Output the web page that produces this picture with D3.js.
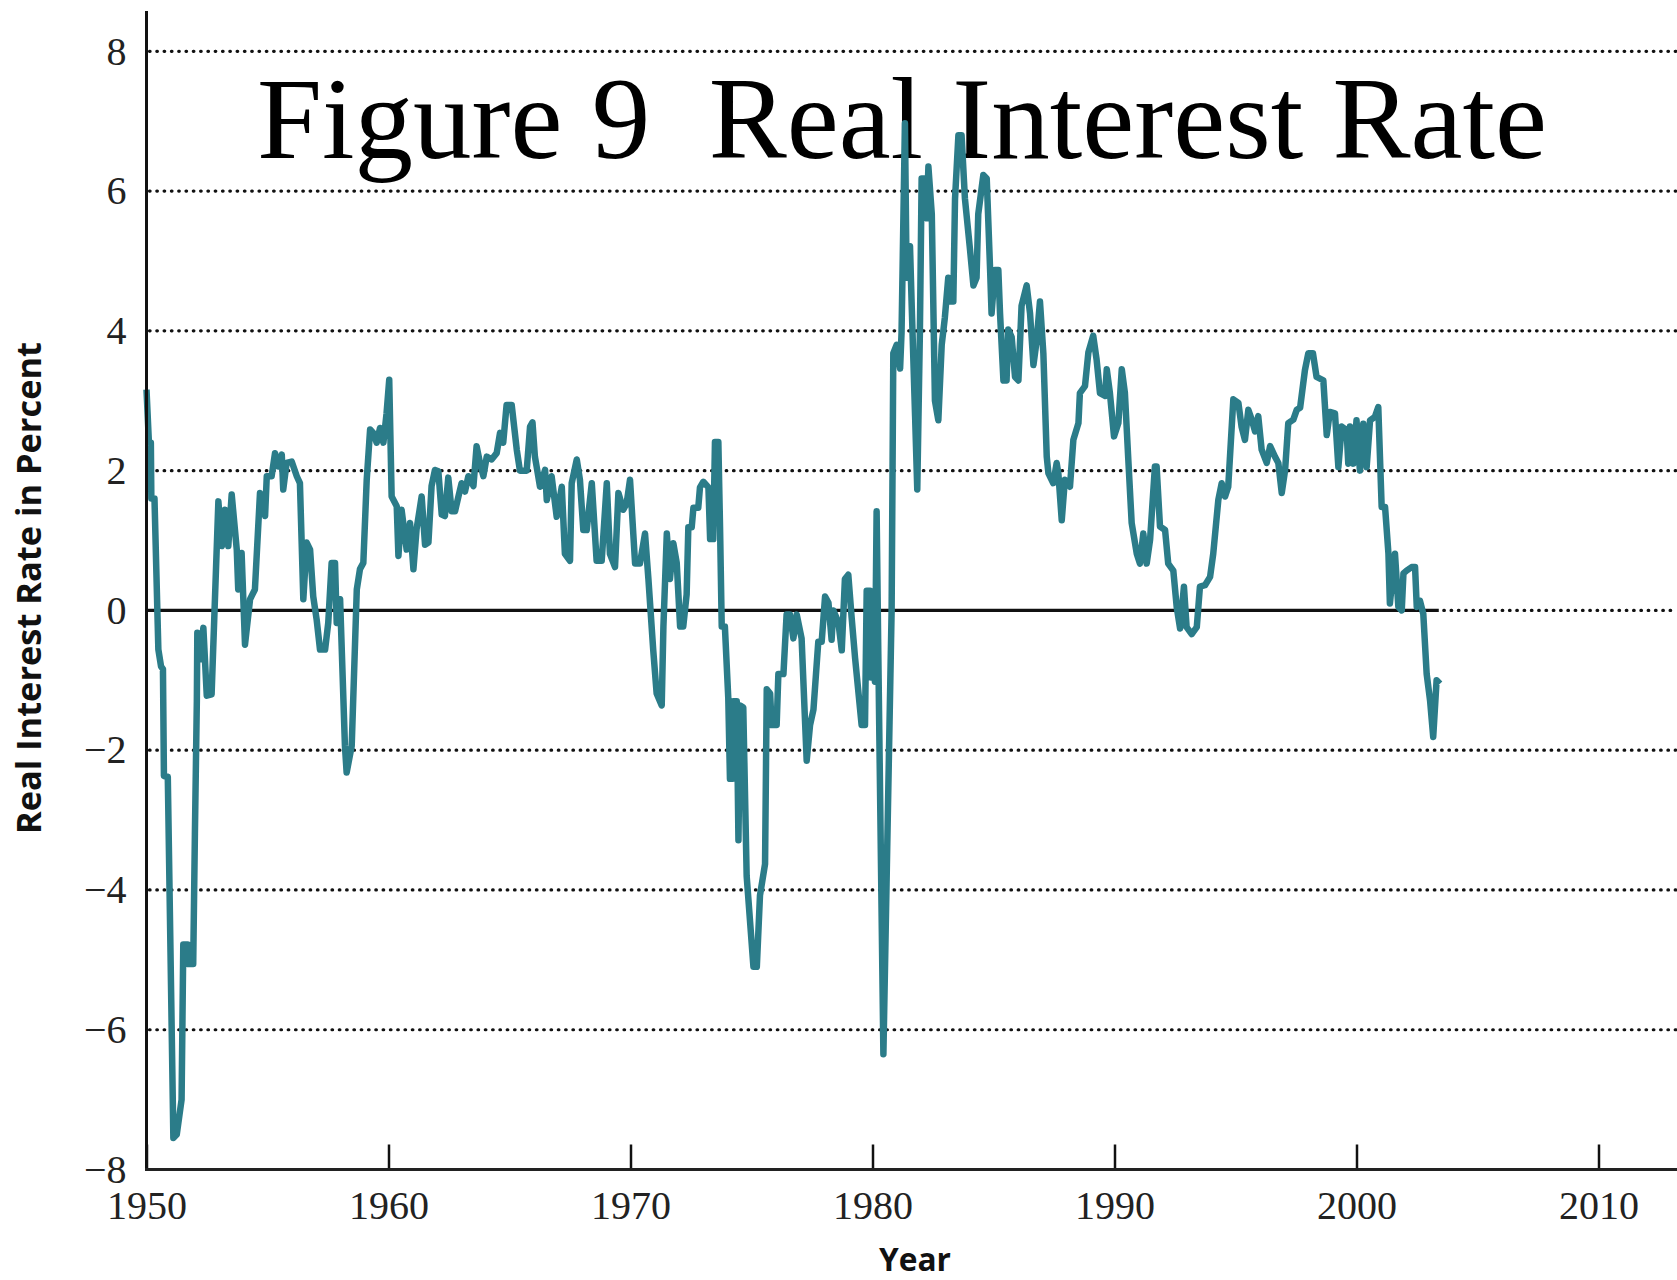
<!DOCTYPE html>
<html>
<head>
<meta charset="utf-8">
<script src="https://cdn.jsdelivr.net/npm/d3@7"></script>
<style>
  html, body { margin: 0; padding: 0; background: #ffffff; }
  svg { display: block; }
</style>
</head>
<body>
<svg id="chart" width="1677" height="1280"></svg>
<script>
// ---- data ----
const years = [
  1950.00,1950.10,1950.18,1950.20,1950.33,1950.49,1950.60,1950.68,1950.72,1950.88,
  1951.11,1951.25,1951.45,1951.52,1951.70,1951.73,1951.93,1952.00,1952.08,1952.10,
  1952.21,1952.35,1952.49,1952.69,1952.97,1953.11,1953.24,1953.38,1953.52,1953.73,
  1953.79,1953.93,1954.07,1954.28,1954.48,1954.69,1954.90,1954.97,1955.17,1955.31,
  1955.45,1955.59,1955.65,1955.79,1956.00,1956.21,1956.34,1956.48,1956.62,1956.76,
  1956.89,1957.03,1957.17,1957.38,1957.51,1957.65,1957.79,1957.86,1958.00,1958.20,
  1958.27,1958.48,1958.69,1958.82,1958.96,1959.10,1959.24,1959.37,1959.51,1959.65,
  1959.79,1959.92,1960.03,1960.13,1960.34,1960.41,1960.54,1960.75,1960.89,1961.03,
  1961.16,1961.37,1961.51,1961.65,1961.78,1961.92,1962.06,1962.20,1962.33,1962.47,
  1962.61,1962.75,1962.89,1963.02,1963.16,1963.30,1963.51,1963.64,1963.78,1963.92,
  1964.06,1964.26,1964.47,1964.61,1964.74,1964.88,1965.09,1965.30,1965.43,1965.71,
  1965.85,1965.95,1966.05,1966.12,1966.26,1966.47,1966.54,1966.74,1966.95,1967.16,
  1967.29,1967.50,1967.57,1967.78,1967.91,1968.05,1968.19,1968.40,1968.53,1968.60,
  1968.81,1969.02,1969.15,1969.36,1969.50,1969.70,1969.84,1969.98,1970.19,1970.39,
  1970.60,1970.74,1970.94,1971.08,1971.29,1971.36,1971.50,1971.63,1971.77,1971.91,
  1972.05,1972.18,1972.32,1972.39,1972.53,1972.60,1972.80,1972.87,1973.01,1973.22,
  1973.29,1973.42,1973.49,1973.63,1973.70,1973.77,1973.90,1974.04,1974.11,1974.22,
  1974.25,1974.39,1974.46,1974.53,1974.66,1974.80,1975.08,1975.22,1975.35,1975.56,
  1975.63,1975.77,1975.83,1976.04,1976.11,1976.32,1976.45,1976.59,1976.73,1976.87,
  1977.07,1977.28,1977.42,1977.56,1977.76,1977.90,1978.04,1978.18,1978.31,1978.38,
  1978.59,1978.73,1978.86,1979.00,1979.14,1979.28,1979.55,1979.69,1979.76,1979.90,
  1979.94,1980.04,1980.10,1980.17,1980.24,1980.45,1980.79,1980.86,1981.00,1981.14,
  1981.20,1981.34,1981.41,1981.55,1981.62,1981.76,1981.85,1981.96,1982.03,1982.17,
  1982.24,1982.31,1982.45,1982.58,1982.72,1982.86,1982.99,1983.13,1983.20,1983.34,
  1983.41,1983.55,1983.68,1983.82,1984.03,1984.17,1984.30,1984.37,1984.58,1984.72,
  1984.86,1984.92,1985.06,1985.20,1985.27,1985.41,1985.54,1985.61,1985.75,1985.89,
  1986.03,1986.16,1986.37,1986.51,1986.65,1986.78,1986.92,1987.06,1987.20,1987.27,
  1987.47,1987.61,1987.68,1987.82,1987.95,1988.16,1988.30,1988.51,1988.57,1988.78,
  1988.92,1989.12,1989.26,1989.40,1989.61,1989.68,1989.81,1989.98,1990.16,1990.30,
  1990.43,1990.57,1990.71,1990.92,1991.05,1991.19,1991.33,1991.47,1991.67,1991.74,
  1991.88,1992.09,1992.22,1992.43,1992.57,1992.71,1992.87,1992.98,1993.19,1993.40,
  1993.53,1993.74,1993.95,1994.08,1994.29,1994.43,1994.57,1994.70,1994.91,1995.12,
  1995.25,1995.39,1995.53,1995.67,1995.81,1995.94,1996.08,1996.29,1996.43,1996.63,
  1996.77,1996.91,1997.05,1997.18,1997.39,1997.53,1997.67,1997.87,1998.01,1998.20,
  1998.35,1998.63,1998.77,1998.90,1999.11,1999.25,1999.39,1999.59,1999.66,1999.73,
  1999.87,2000.00,2000.14,2000.28,2000.42,2000.56,2000.76,2000.90,2001.04,2001.18,
  2001.32,2001.38,2001.59,2001.73,2001.87,2001.94,2002.07,2002.28,2002.42,2002.49,
  2002.62,2002.76,2002.90,2003.04,2003.17,2003.31,2003.45
];
const rates = [
  3.16,2.40,2.40,1.60,1.60,-0.56,-0.80,-0.84,-2.37,-2.38,
  -7.55,-7.50,-7.00,-4.78,-4.78,-5.06,-5.06,-3.20,-1.30,-0.32,
  -0.70,-0.25,-1.22,-1.20,1.56,0.92,1.44,0.92,1.66,0.87,
  0.30,0.82,-0.49,0.16,0.30,1.68,1.35,1.92,1.92,2.25,
  2.06,2.23,1.73,2.11,2.13,1.92,1.82,0.16,0.97,0.87,
  0.20,-0.13,-0.56,-0.56,-0.18,0.68,0.68,-0.18,0.16,-1.94,
  -2.32,-1.94,0.30,0.59,0.68,1.87,2.59,2.54,2.40,2.61,
  2.40,2.82,3.30,1.63,1.49,0.78,1.44,0.87,1.25,0.59,
  1.16,1.63,0.94,0.97,1.78,2.01,1.99,1.37,1.35,1.90,
  1.42,1.42,1.63,1.82,1.70,1.92,1.78,2.35,2.11,1.92,
  2.20,2.16,2.25,2.54,2.40,2.94,2.94,2.30,2.00,2.00,
  2.63,2.69,2.20,2.06,1.77,2.01,1.58,1.92,1.34,1.77,
  0.81,0.71,1.82,2.16,1.87,1.15,1.15,1.82,1.10,0.71,
  0.71,1.82,0.81,0.62,1.68,1.44,1.53,1.87,0.67,0.67,
  1.10,0.45,-0.57,-1.19,-1.36,-0.23,1.10,0.45,0.96,0.68,
  -0.23,-0.23,0.23,1.19,1.19,1.47,1.47,1.76,1.84,1.76,
  1.02,1.02,2.41,2.41,1.19,-0.23,-0.23,-1.25,-2.41,-2.41,
  -1.30,-1.30,-3.29,-1.36,-1.39,-3.80,-5.10,-5.10,-4.08,-3.63,
  -1.13,-1.19,-1.64,-1.64,-0.91,-0.91,-0.06,-0.06,-0.40,-0.06,
  -0.40,-2.15,-1.64,-1.42,-0.45,-0.45,0.20,0.11,-0.42,0.00,
  -0.17,-0.57,0.45,0.51,-0.11,-0.68,-1.64,-1.64,0.28,0.28,
  -0.96,-0.45,-1.02,1.42,-0.62,-6.35,0.00,3.68,3.80,3.46,
  3.97,6.97,4.76,5.21,4.36,2.78,1.73,4.02,6.18,6.18,
  5.61,6.35,5.67,3.00,2.72,3.80,4.19,4.76,4.42,4.42,
  5.89,6.80,6.80,5.89,5.16,4.65,4.76,5.67,6.23,6.18,
  4.87,4.25,4.87,4.87,4.25,3.29,3.29,4.02,3.91,3.34,
  3.29,4.36,4.65,4.25,3.51,3.85,4.42,3.68,2.20,1.96,
  1.82,2.11,1.96,1.29,1.87,1.77,2.44,2.68,3.11,3.21,
  3.69,3.93,3.59,3.11,3.07,3.45,3.11,2.49,2.68,3.45,
  3.11,2.16,1.25,0.81,0.67,1.10,0.67,1.01,2.06,2.06,
  1.20,1.15,0.67,0.57,0.05,-0.26,0.34,-0.24,-0.34,-0.24,
  0.34,0.36,0.48,0.81,1.58,1.82,1.63,1.77,3.02,2.97,
  2.63,2.44,2.87,2.73,2.56,2.78,2.30,2.11,2.35,2.20,
  2.11,1.68,2.01,2.68,2.73,2.87,2.90,3.44,3.68,3.68,
  3.34,3.29,2.51,2.84,2.82,2.05,2.63,2.58,2.10,2.63,
  2.10,2.72,2.00,2.67,2.05,2.72,2.77,2.91,1.48,1.48,
  0.81,0.10,0.81,0.05,0.00,0.53,0.57,0.62,0.62,0.05,
  0.14,-0.05,-0.91,-1.29,-1.81,-1.00,-1.05
];
const xTicks = [1950, 1960, 1970, 1980, 1990, 2000, 2010];
const yTicks = [-8, -6, -4, -2, 0, 2, 4, 6, 8];
const zeroLineEnd = 2003.4;
const titleText = "Figure 9  Real Interest Rate";
const yLabel = "Real Interest Rate in Percent";
const xLabel = "Year";

// ---- layout ----
const W = 1677, H = 1280;
const mLeft = 146.5, mRight = 1598.5, mTop = 51.3, mBottom = 1169.5;
const svg = d3.select("#chart");
svg.append("rect").attr("width", W).attr("height", H).attr("fill", "#ffffff");

const x = d3.scaleLinear().domain([1950, 2010]).range([mLeft, mRight]);
const y = d3.scaleLinear().domain([-8, 8]).range([mBottom, mTop]);

const ink = "#111111";
const serif = "'Liberation Serif', 'Times New Roman', serif";
const sans = "'Open Sans', 'Noto Sans', sans-serif";

// Dotted gridlines
const grid = svg.append("g");
const dotted = sel => sel
  .attr("stroke", ink).attr("stroke-width", 3.2)
  .attr("stroke-linecap", "round")
  .attr("stroke-dasharray", "0.6 6.7");
yTicks.filter(v => v !== -8 && v !== 0).forEach(v => {
  grid.append("line")
    .attr("x1", mLeft + 3).attr("x2", W)
    .attr("y1", y(v)).attr("y2", y(v))
    .call(dotted);
});
// zero line: solid to end of data, dotted after
grid.append("line")
  .attr("x1", mLeft).attr("x2", x(zeroLineEnd))
  .attr("y1", y(0)).attr("y2", y(0))
  .attr("stroke", ink).attr("stroke-width", 3.4);
grid.append("line")
  .attr("x1", x(zeroLineEnd) + 5).attr("x2", W)
  .attr("y1", y(0)).attr("y2", y(0))
  .call(dotted);

// Title
svg.append("text")
  .attr("x", 257).attr("y", 158)
  .attr("font-family", serif).attr("font-size", 117)
  .attr("fill", "#000")
  .style("white-space", "pre")
  .text(titleText);

// Line
const data = years.map((yr, i) => ({ yr, v: rates[i] }));
const line = d3.line().x(d => x(d.yr)).y(d => y(d.v));
svg.append("path")
  .datum(data)
  .attr("d", line)
  .attr("fill", "none")
  .attr("stroke", "#2b7c89")
  .attr("stroke-width", 6.5)
  .attr("stroke-linejoin", "round")
  .attr("stroke-linecap", "butt");

// Axes
const fmt = d => d < 0 ? "\u2212" + Math.abs(d) : String(d);
const yAxis = svg.append("g")
  .attr("transform", `translate(${mLeft},0)`)
  .call(d3.axisLeft(y).tickValues(yTicks).tickSize(0).tickPadding(20).tickFormat(fmt));
yAxis.select(".domain").remove();
yAxis.selectAll("text")
  .attr("font-family", serif).attr("font-size", 40).attr("fill", "#222");

const xAxis = svg.append("g")
  .attr("transform", `translate(0,${mBottom})`)
  .call(d3.axisBottom(x).tickValues(xTicks).tickSize(-25).tickPadding(21).tickFormat(d3.format("d")));
xAxis.select(".domain").remove();
xAxis.selectAll(".tick line").attr("stroke", ink).attr("stroke-width", 2.5);
xAxis.selectAll("text")
  .attr("font-family", serif).attr("font-size", 40).attr("fill", "#222");

// axis lines
svg.append("line")
  .attr("x1", mLeft).attr("x2", mLeft).attr("y1", 11).attr("y2", mBottom + 1.5)
  .attr("stroke", ink).attr("stroke-width", 3);
svg.append("line")
  .attr("x1", mLeft - 1.5).attr("x2", W).attr("y1", mBottom).attr("y2", mBottom)
  .attr("stroke", "#222").attr("stroke-width", 3);

// Axis titles
svg.append("text")
  .attr("transform", `translate(41,588) rotate(-90)`)
  .attr("text-anchor", "middle")
  .attr("font-family", sans).attr("font-weight", 700).attr("font-size", 34)
  .attr("textLength", 492).attr("lengthAdjust", "spacingAndGlyphs")
  .attr("fill", "#111")
  .text(yLabel);

svg.append("text")
  .attr("x", 915).attr("y", 1271)
  .attr("text-anchor", "middle")
  .attr("font-family", sans).attr("font-weight", 700).attr("font-size", 33)
  .attr("textLength", 72).attr("lengthAdjust", "spacingAndGlyphs")
  .attr("fill", "#111")
  .text(xLabel);
</script>
</body>
</html>
